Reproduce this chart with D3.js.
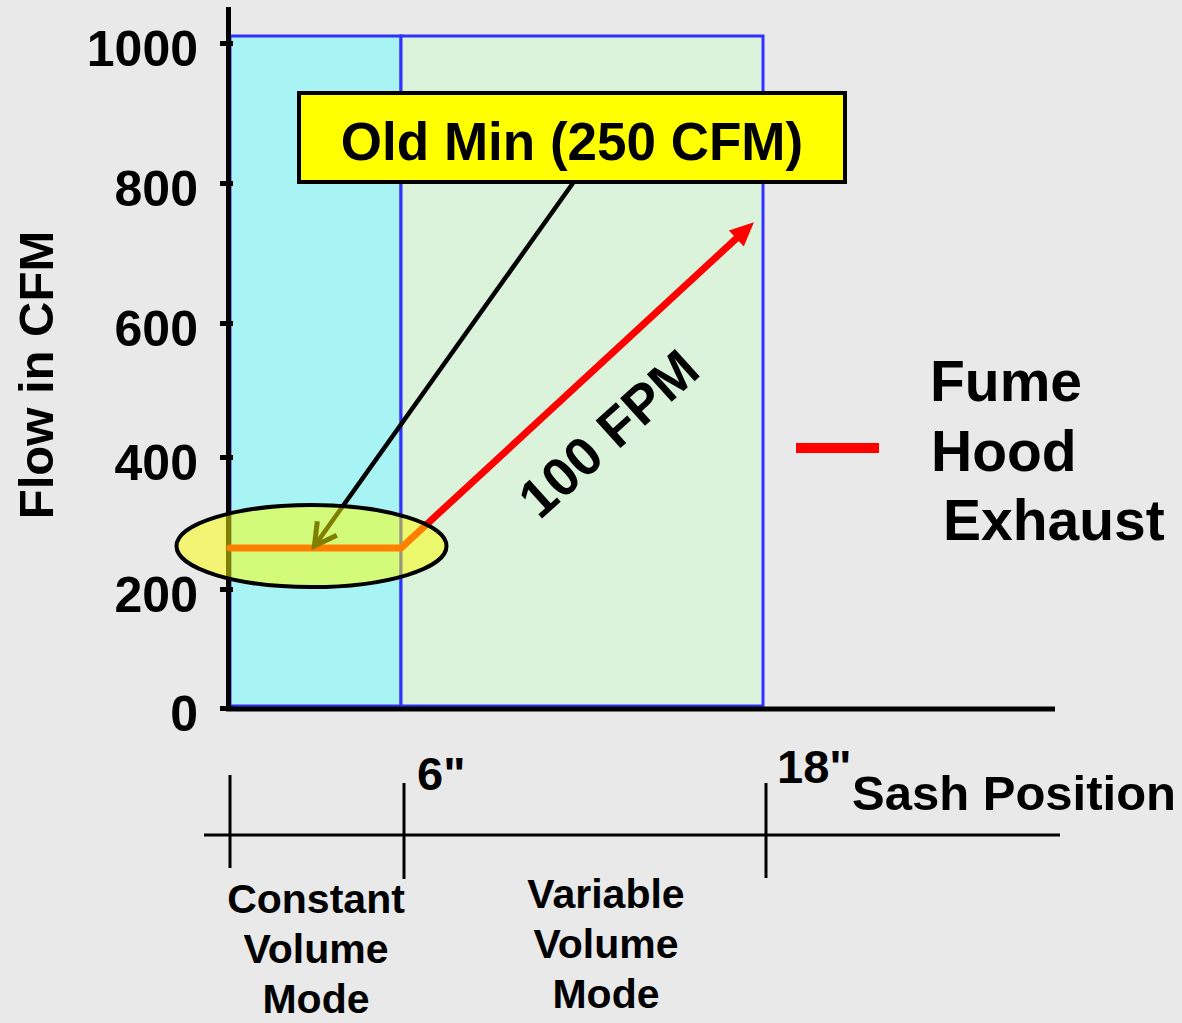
<!DOCTYPE html>
<html>
<head>
<meta charset="utf-8">
<script src="https://cdn.jsdelivr.net/npm/d3@7"></script>
<style>
  html, body { margin: 0; padding: 0; background: #e9e9e9; }
  svg { display: block; }
  text { font-family: "Liberation Sans", Arial, sans-serif; font-weight: bold; fill: #000; }
</style>
</head>
<body>
<script>
// ---- data ----
const yTicks = [0, 200, 400, 600, 800, 1000];
const zoneNames = ["Constant Volume Mode", "Variable Volume Mode"];
const zoneStart = [0, 6];
const zoneEnd = [6, 18];
const zoneTop = 1010;
const sashTicks = [0, 6, 18];
const sashTickLabels = ["", '6"', '18"'];
const sashPos = [0, 6, 17.7];        // inches
const flowCFM = [262, 262, 744];     // CFM
const seriesName = ["Fume", "Hood", "Exhaust"];
const calloutText = "Old Min (250 CFM)";
const slopeLabel = "100 FPM";

// ---- layout ----
const W = 1182, H = 1023;
const svg = d3.select("body").append("svg").attr("width", W).attr("height", H);
svg.append("rect").attr("width", W).attr("height", H).attr("fill", "#e9e9e9");

const x = d3.scaleLinear().domain([0, 6, 18]).range([230, 401, 763]);
const y = d3.scaleLinear().domain(yTicks).range([708, 589, 457, 323, 183, 43]);
const yExt = v => v > 1000 ? y(1000) - (v - 1000) * 0.7 : y(v);

// zones
const zoneFill = ["#a8f4f4", "#dbf3db"];
const zones = zoneStart.map((s, i) => ({ s, e: zoneEnd[i], fill: zoneFill[i] }));
svg.selectAll("rect.zone").data(zones).enter().append("rect")
  .attr("class", "zone")
  .attr("x", d => x(d.s)).attr("y", yExt(zoneTop))
  .attr("width", d => x(d.e) - x(d.s)).attr("height", y(0) - 2 - yExt(zoneTop))
  .attr("fill", d => d.fill).attr("stroke", "#3030ff").attr("stroke-width", 3);

// y axis
const yAxis = d3.axisLeft(y).tickValues(yTicks).tickSize(9).tickPadding(22).tickFormat(d3.format("d"));
const gy = svg.append("g").attr("transform", "translate(229,0)").call(yAxis);
gy.select(".domain").remove();
gy.selectAll(".tick line").attr("stroke", "#000").attr("stroke-width", 5).attr("x2", -9).attr("x1", 4);
gy.selectAll(".tick text").attr("font-size", 50).attr("font-family", "Liberation Sans, Arial, sans-serif")
  .attr("font-weight", "bold").attr("dy", "0.45em").attr("fill", "#000");
svg.append("line").attr("x1", 228.5).attr("x2", 228.5).attr("y1", 7).attr("y2", 711)
  .attr("stroke", "#000").attr("stroke-width", 5);
// x axis line
svg.append("line").attr("x1", 226).attr("x2", 1055).attr("y1", 709).attr("y2", 709)
  .attr("stroke", "#000").attr("stroke-width", 5);

// y axis title
svg.append("text").attr("transform", "translate(53,375) rotate(-90)")
  .attr("text-anchor", "middle").attr("font-size", 49).text("Flow in CFM");

// flow line
const pts = sashPos.map((s, i) => [x(s), y(flowCFM[i])]);
const last = pts[pts.length - 1], prev = pts[pts.length - 2];
const ang = Math.atan2(last[1] - prev[1], last[0] - prev[0]);
const headLen = 24, headW = 11;
const lineEnd = [last[0] - Math.cos(ang) * (headLen - 2), last[1] - Math.sin(ang) * (headLen - 2)];
svg.append("path")
  .attr("d", d3.line()([...pts.slice(0, -1), lineEnd]))
  .attr("fill", "none").attr("stroke", "#ff0000").attr("stroke-width", 7)
  .attr("stroke-linecap", "round").attr("stroke-linejoin", "miter");
const bx = last[0] - Math.cos(ang) * headLen, by = last[1] - Math.sin(ang) * headLen;
svg.append("path")
  .attr("d", d3.line()([last,
    [bx + Math.sin(ang) * headW, by - Math.cos(ang) * headW],
    [bx - Math.sin(ang) * headW, by + Math.cos(ang) * headW]]) + "Z")
  .attr("fill", "#ff0000");

// slope label
svg.append("text").attr("transform", "translate(608,433) rotate(-42)")
  .attr("text-anchor", "middle").attr("dy", "0.36em").attr("font-size", 54).text(slopeLabel);

// callout box
svg.append("rect").attr("x", 299).attr("y", 93).attr("width", 546).attr("height", 89)
  .attr("fill", "#ffff00").attr("stroke", "#000").attr("stroke-width", 4);
svg.append("text").attr("x", 572).attr("y", 160).attr("text-anchor", "middle")
  .attr("font-size", 53).text(calloutText);

// callout arrow
const a0 = [573, 183], a1 = [x(2.96), y(265)];
svg.append("line").attr("x1", a0[0]).attr("y1", a0[1]).attr("x2", a1[0]).attr("y2", a1[1])
  .attr("stroke", "#000").attr("stroke-width", 4.5);
const ca = Math.atan2(a1[1] - a0[1], a1[0] - a0[0]);
const hl = 25, spread = 0.5;
svg.append("path")
  .attr("d", d3.line()([
    [a1[0] - hl * Math.cos(ca - spread), a1[1] - hl * Math.sin(ca - spread)],
    a1,
    [a1[0] - hl * Math.cos(ca + spread), a1[1] - hl * Math.sin(ca + spread)]]))
  .attr("fill", "none").attr("stroke", "#000").attr("stroke-width", 5).attr("stroke-linejoin", "miter");

// highlight ellipse
svg.append("ellipse").attr("cx", x(2.86)).attr("cy", y(265)).attr("rx", 135).attr("ry", 41)
  .attr("fill", "#ffff00").attr("fill-opacity", 0.5).attr("stroke", "#000").attr("stroke-width", 4);

// legend
svg.append("line").attr("x1", 796).attr("x2", 879).attr("y1", 448).attr("y2", 448)
  .attr("stroke", "#ff0000").attr("stroke-width", 10);
const legX = [930, 931, 943], legY = [401, 471, 540];
svg.selectAll("text.leg").data(seriesName).enter().append("text").attr("class", "leg")
  .attr("x", (d, i) => legX[i]).attr("y", (d, i) => legY[i]).attr("font-size", 57).text(d => d);

// sash position ruler
svg.append("line").attr("x1", 204).attr("x2", 1060).attr("y1", 835).attr("y2", 835)
  .attr("stroke", "#000").attr("stroke-width", 3);
const tickTop = [775, 783, 783], tickBot = [868, 879, 878];
svg.selectAll("line.st").data(sashTicks).enter().append("line").attr("class", "st")
  .attr("x1", (d, i) => x(d) + (i ? 3 : 0)).attr("x2", (d, i) => x(d) + (i ? 3 : 0))
  .attr("y1", (d, i) => tickTop[i]).attr("y2", (d, i) => tickBot[i])
  .attr("stroke", "#000").attr("stroke-width", 3);
const stlX = [0, 417, 777], stlY = [0, 790, 783];
svg.selectAll("text.stl").data(sashTickLabels).enter().append("text").attr("class", "stl")
  .attr("x", (d, i) => stlX[i]).attr("y", (d, i) => stlY[i]).attr("font-size", 47).text(d => d);
svg.append("text").attr("x", 852).attr("y", 810).attr("font-size", 49).text("Sash Position");

// mode labels
const modeX = [316, 606], modeY0 = [913, 908];
zoneNames.forEach((name, i) => {
  const t = svg.append("text").attr("text-anchor", "middle").attr("font-size", 41);
  name.split(" ").forEach((w, j) => {
    t.append("tspan").attr("x", modeX[i]).attr("y", modeY0[i] + j * 50).text(w);
  });
});
</script>
</body>
</html>
